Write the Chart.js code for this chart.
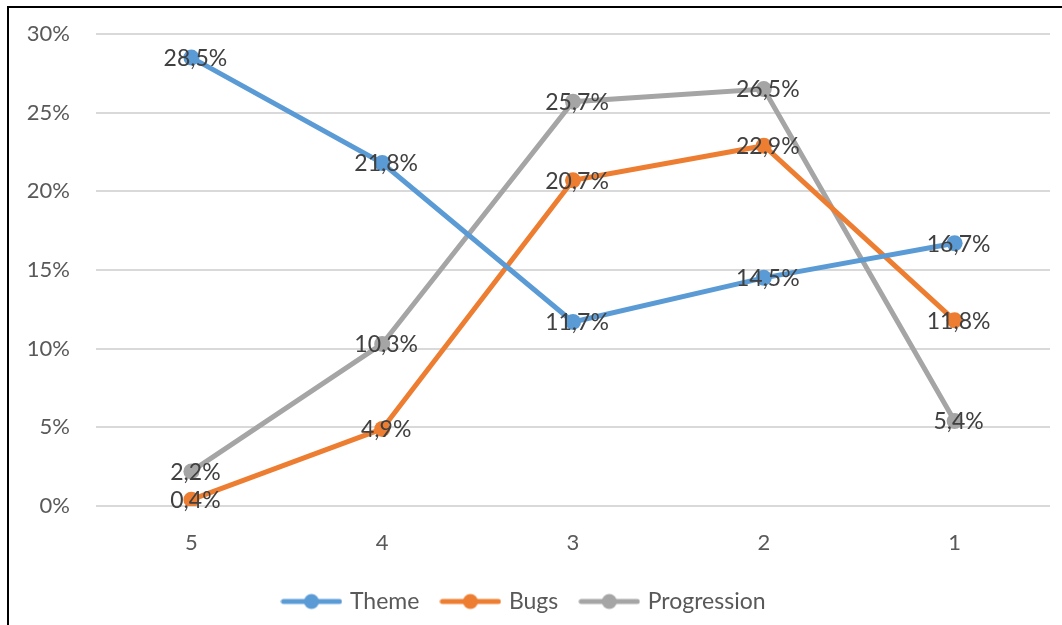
<!DOCTYPE html>
<html>
<head>
<meta charset="utf-8">
<script src="https://cdn.jsdelivr.net/npm/chart.js@4/dist/chart.umd.min.js"></script>
<style>
  html, body { margin: 0; padding: 0; background: #fff; }
  .wrap { position: relative; width: 1062px; height: 625px; overflow: hidden; }
  .frame { position: absolute; left: 7px; top: 6px; width: 1070px; height: 640px;
           border-left: 2px solid #000; border-top: 2px solid #000; box-sizing: border-box; pointer-events: none; }
  canvas { position: absolute; left: 0; top: 0; }
</style>
</head>
<body>
<div class="wrap">
  <canvas id="chart" width="1062" height="625"></canvas>
  <div class="frame"></div>
</div>
<script>
(function () {
    // values (percent)
    let categories = ["5", "4", "3", "2", "1"],
        theme = [28.5, 21.8, 11.7, 14.5, 16.7],
        bugs = [0.4, 4.9, 20.7, 22.9, 11.8],
        progression = [2.2, 10.3, 25.7, 26.5, 5.4],
        yTicks = [0, 5, 10, 15, 20, 25, 30];

    const FONT = "Lato, 'Liberation Sans', sans-serif";
    const colors = { theme: "#5B9BD5", bugs: "#ED7D31", progression: "#A5A5A5" };

    function fmt(v) {
        return v.toFixed(1).replace(".", ",") + "%";
    }

    // little line + dot picture for the legend
    function legendMark(color) {
        let c = document.createElement("canvas");
        c.width = 62;
        c.height = 18;
        let ctx = c.getContext("2d");
        ctx.strokeStyle = color;
        ctx.lineWidth = 5;
        ctx.lineCap = "round";
        ctx.beginPath();
        ctx.moveTo(3, 9);
        ctx.lineTo(59, 9);
        ctx.stroke();
        ctx.fillStyle = color;
        ctx.beginPath();
        ctx.arc(31, 9, 7.5, 0, Math.PI * 2);
        ctx.fill();
        return c;
    }

    function makeSet(label, data, color) {
        return {
            label: label,
            data: data,
            borderColor: color,
            backgroundColor: color,
            borderWidth: 5,
            pointRadius: 8,
            pointHoverRadius: 8,
            pointBorderWidth: 0,
            tension: 0,
            fill: false
        };
    }

    const dataLabels = {
        id: "dataLabels",
        afterDatasetsDraw(chart) {
            let ctx = chart.ctx;
            ctx.save();
            ctx.font = "23px " + FONT;
            ctx.fillStyle = "#404040";
            ctx.textAlign = "center";
            ctx.textBaseline = "middle";
            chart.data.datasets.forEach((ds, i) => {
                chart.getDatasetMeta(i).data.forEach((pt, j) => {
                    ctx.fillText(fmt(ds.data[j]), pt.x + 4, pt.y + 1);
                });
            });
            ctx.restore();
        }
    };

    new Chart(document.getElementById("chart"), {
        type: "line",
        data: {
            labels: categories,
            datasets: [
                makeSet("Theme", theme, colors.theme),
                makeSet("Bugs", bugs, colors.bugs),
                makeSet("Progression", progression, colors.progression)
            ]
        },
        options: {
            responsive: false,
            animation: false,
            layout: { padding: { left: 0, right: 12, top: 34, bottom: 2 } },
            scales: {
                x: {
                    offset: true,
                    grid: { display: false, drawTicks: false },
                    border: { display: false },
                    ticks: { color: "#595959", font: { family: FONT, size: 22 }, padding: 24 },
                    afterFit: s => { s.height = 60; }
                },
                y: {
                    min: 0,
                    max: 30,
                    // invisible tick marks keep the labels away from the plot
                    grid: { color: "#D9D9D9", lineWidth: 2, drawTicks: true, tickLength: 26, tickColor: "rgba(0,0,0,0)" },
                    border: { display: false },
                    afterBuildTicks: s => { s.ticks = yTicks.map(v => ({ value: v })); },
                    ticks: {
                        color: "#595959",
                        font: { family: FONT, size: 22 },
                        padding: 0,
                        callback: v => v + "%"
                    },
                    afterFit: s => { s.width = 96; }
                }
            },
            plugins: {
                legend: {
                    position: "bottom",
                    labels: {
                        usePointStyle: true,
                        pointStyleWidth: 54,
                        boxHeight: 18,
                        padding: 24,
                        color: "#595959",
                        font: { family: FONT, size: 23 },
                        generateLabels: chart => {
                            let items = Chart.defaults.plugins.legend.labels.generateLabels(chart);
                            items.forEach(it => {
                                it.pointStyle = legendMark(chart.data.datasets[it.datasetIndex].borderColor);
                            });
                            return items;
                        }
                    }
                },
                tooltip: { enabled: false }
            }
        },
        plugins: [dataLabels]
    });
})();
</script>
</body>
</html>
